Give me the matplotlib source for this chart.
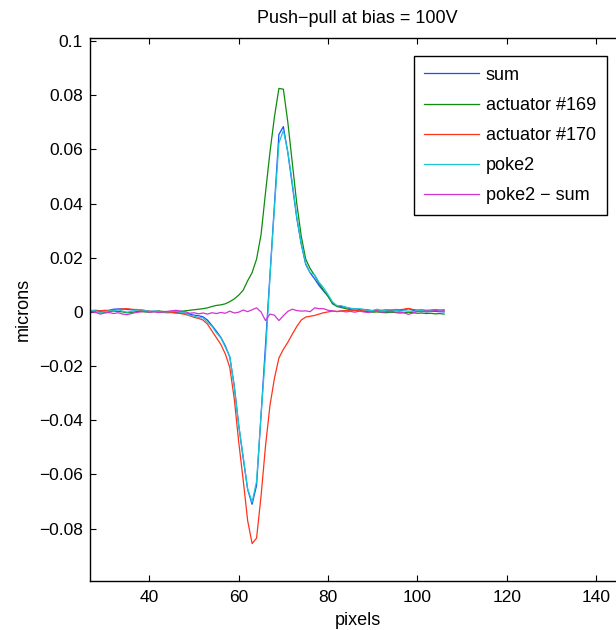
import numpy as np
from matplotlib import pyplot as plt

# pixel positions along the cut
pixels = np.arange(27, 107)

act169 = [0.0002, 0.0001, 0.0000, -0.0002, 0.0001, 0.0003, 0.0002, 0.0000, -0.0003, -0.0002,
          0.0001, 0.0002, 0.0000, -0.0001, 0.0001, 0.0003, 0.0002, 0.0001, 0.0000, 0.0001,
          0.0002, 0.0004, 0.0006, 0.0008, 0.0010, 0.0012, 0.0015, 0.0020, 0.0024, 0.0026,
          0.0030, 0.0038, 0.0048, 0.0062, 0.0080, 0.0115, 0.0145, 0.0195, 0.0285, 0.0440,
          0.0590, 0.0720, 0.0825, 0.0822, 0.0700, 0.0550, 0.0400, 0.0280, 0.0195, 0.0160,
          0.0135, 0.0105, 0.0080, 0.0058, 0.0030, 0.0020, 0.0016, 0.0012, 0.0008, 0.0006,
          0.0004, 0.0002, 0.0001, -0.0001, 0.0000, -0.0002, -0.0003, -0.0001, -0.0002, -0.0004,
          -0.0003, -0.0001, -0.0003, -0.0005, -0.0004, -0.0006, -0.0005, -0.0007, -0.0006, -0.0008]

act170 = [0.0003, 0.0005, 0.0004, 0.0006, 0.0005, 0.0007, 0.0009, 0.0011, 0.0012, 0.0010,
          0.0008, 0.0006, 0.0004, 0.0003, 0.0001, 0.0000, -0.0002, -0.0003, -0.0002, -0.0004,
          -0.0006, -0.0009, -0.0014, -0.0020, -0.0024, -0.0030, -0.0045, -0.0070, -0.0095, -0.0120,
          -0.0155, -0.0205, -0.0320, -0.0480, -0.0620, -0.0770, -0.0855, -0.0835, -0.0680, -0.0495,
          -0.0345, -0.0245, -0.0170, -0.0138, -0.0112, -0.0082, -0.0054, -0.0030, -0.0019, -0.0016,
          -0.0013, -0.0008, -0.0003, 0.0000, 0.0003, 0.0002, 0.0004, 0.0005, 0.0004, 0.0006,
          0.0005, 0.0007, 0.0006, 0.0005, 0.0007, 0.0006, 0.0008, 0.0007, 0.0009, 0.0008,
          0.0010, 0.0013, 0.0009, 0.0007, 0.0008, 0.0006, 0.0007, 0.0009, 0.0007, 0.0008]

sum_ = [0.0005, 0.0006, 0.0004, 0.0004, 0.0006, 0.0010, 0.0011, 0.0011, 0.0009, 0.0008,
        0.0009, 0.0008, 0.0004, 0.0002, 0.0002, 0.0003, 0.0000, -0.0002, -0.0002, -0.0003,
        -0.0004, -0.0005, -0.0008, -0.0012, -0.0014, -0.0018, -0.0030, -0.0050, -0.0071, -0.0094,
        -0.0125, -0.0167, -0.0272, -0.0418, -0.0540, -0.0655, -0.0710, -0.0640, -0.0381, -0.0122,
        0.0137, 0.0396, 0.0655, 0.0684, 0.0588, 0.0468, 0.0346, 0.0250, 0.0176, 0.0144,
        0.0122, 0.0097, 0.0077, 0.0058, 0.0033, 0.0022, 0.0020, 0.0017, 0.0012, 0.0012,
        0.0009, 0.0009, 0.0007, 0.0004, 0.0007, 0.0004, 0.0005, 0.0006, 0.0007, 0.0004,
        0.0007, 0.0012, 0.0006, 0.0002, 0.0004, 0.0000, 0.0002, 0.0002, 0.0001, 0.0000]

poke2 = [0.0005, 0.0004, -0.0004, 0.0000, 0.0004, 0.0004, 0.0008, 0.0003, -0.0001, 0.0002,
         0.0007, 0.0008, 0.0006, 0.0001, 0.0003, 0.0001, 0.0000, 0.0000, 0.0002, 0.0003,
         -0.0001, -0.0004, -0.0013, -0.0015, -0.0021, -0.0022, -0.0038, -0.0053, -0.0077, -0.0096,
         -0.0130, -0.0164, -0.0276, -0.0419, -0.0533, -0.0654, -0.0702, -0.0625, -0.0381, -0.0154,
         0.0129, 0.0384, 0.0623, 0.0670, 0.0590, 0.0478, 0.0351, 0.0253, 0.0180, 0.0145,
         0.0137, 0.0109, 0.0089, 0.0064, 0.0037, 0.0023, 0.0023, 0.0017, 0.0014, 0.0011,
         0.0012, 0.0009, 0.0005, 0.0005, 0.0010, 0.0003, 0.0006, 0.0008, 0.0007, 0.0003,
         0.0004, 0.0003, 0.0002, 0.0004, 0.0005, 0.0004, 0.0004, 0.0007, 0.0004, 0.0004]

diff = [0.0000, -0.0002, -0.0008, -0.0004, -0.0002, -0.0006, -0.0003, -0.0008, -0.0010, -0.0006,
        -0.0002, 0.0000, 0.0002, -0.0001, 0.0001, -0.0002, 0.0000, 0.0002, 0.0004, 0.0006,
        0.0003, 0.0001, -0.0005, -0.0003, -0.0007, -0.0004, -0.0008, -0.0003, -0.0006, -0.0002,
        -0.0005, 0.0003, -0.0004, -0.0001, 0.0007, 0.0001, 0.0008, 0.0015, 0.0000, -0.0032,
        -0.0008, -0.0012, -0.0032, -0.0014, 0.0002, 0.0010, 0.0005, 0.0003, 0.0004, 0.0001,
        0.0015, 0.0012, 0.0012, 0.0006, 0.0004, 0.0001, 0.0003, 0.0000, 0.0002, -0.0001,
        0.0003, 0.0000, -0.0002, 0.0001, 0.0003, -0.0001, 0.0001, 0.0002, 0.0000, -0.0001,
        -0.0003, -0.0009, -0.0004, 0.0002, 0.0001, 0.0004, 0.0002, 0.0005, 0.0003, 0.0004]

xticks = [40, 60, 80, 100, 120, 140]
yticks = [-0.08, -0.06, -0.04, -0.02, 0, 0.02, 0.04, 0.06, 0.08, 0.1]
ytick_labels = ['\u22120.08', '\u22120.06', '\u22120.04', '\u22120.02', '0',
                '0.02', '0.04', '0.06', '0.08', '0.1']

plt.rcParams['font.family'] = ['Liberation Sans', 'DejaVu Sans']
plt.rcParams['font.size'] = 13

fig = plt.figure(figsize=(6.16, 6.30), dpi=100)
ax = fig.add_axes([90 / 616, 1 - 580.7 / 630, 535 / 616, 542.7 / 630])

ax.plot(pixels, sum_, color=(0.1, 0.3, 1), lw=0.9, label='sum')
ax.plot(pixels, act169, color=(0.05, 0.55, 0.05), lw=0.9, label='actuator #169')
ax.plot(pixels, act170, color=(1, 0.2, 0.1), lw=0.9, label='actuator #170')
ax.plot(pixels, poke2, color=(0.1, 0.78, 0.82), lw=0.9, label='poke2')
ax.plot(pixels, diff, color=(0.82, 0.2, 0.82), lw=0.9, label='poke2 \u2212 sum')

ax.set_xlim(26.7, 146.5)
ax.set_ylim(-0.0992, 0.1011)
ax.set_xticks(xticks)
ax.set_yticks(yticks)
ax.set_yticklabels(ytick_labels)
ax.tick_params(direction='in', length=4, width=0.8, top=True, right=True, pad=5, labelsize=12.5)
ax.tick_params(axis='x', pad=7)
for s in ax.spines.values():
    s.set_linewidth(1.0)

ax.set_xlabel('pixels', labelpad=5)
ax.set_ylabel('microns', labelpad=5)
ax.set_title('Push\u2212pull at bias = 100V', fontsize=13, pad=11)

leg = ax.legend(loc='upper right', bbox_to_anchor=(0.966, 0.967), borderaxespad=0,
                fancybox=False, edgecolor='black', framealpha=1,
                handlelength=3.0, handletextpad=0.4, labelspacing=0.73,
                borderpad=0.6)
leg.get_frame().set_linewidth(1.0)

fig.savefig('out.png', dpi=100)
